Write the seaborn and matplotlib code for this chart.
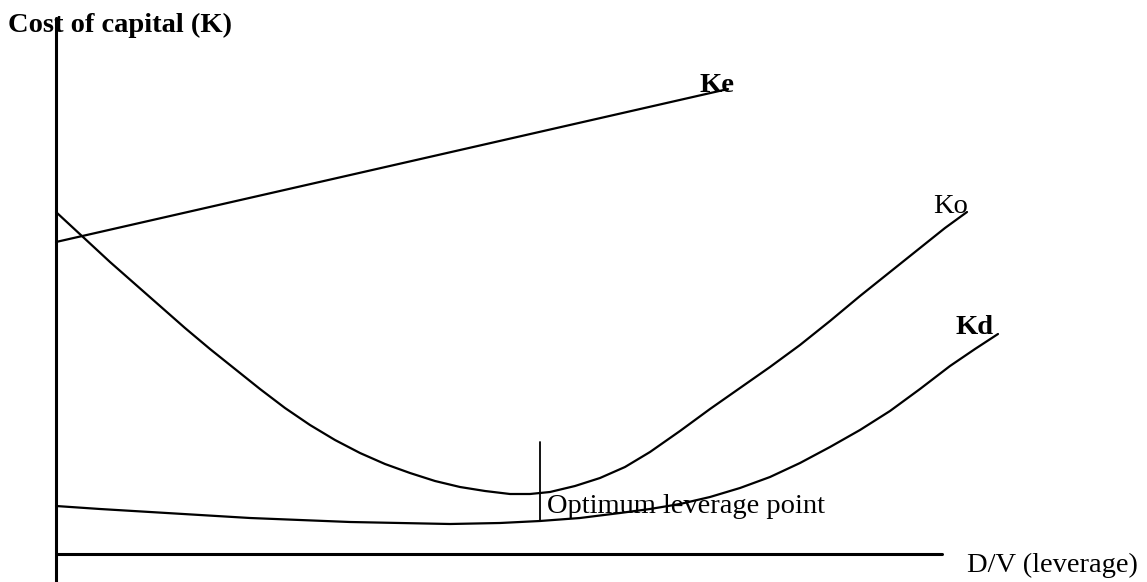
import matplotlib
matplotlib.use("Agg")
import matplotlib.pyplot as plt
import seaborn as sns
import pandas as pd

# curve values (origin at the axes corner)
ke_x = [0, 672]
ke_y = [312, 465]

ko_x = [0, 27, 54, 79, 104, 129, 154, 179, 204, 229, 254, 279, 304, 329, 354,
        379, 404, 429, 454, 474, 494, 519, 544, 569, 594, 624, 654, 684, 714,
        744, 774, 804, 834, 864, 889, 911]
ko_y = [342, 317, 292, 270, 248, 226, 205, 185, 165, 146, 129, 114, 101, 90, 81,
        73, 67, 63, 60, 60, 62, 68, 76, 87, 102, 123, 145, 166, 187,
        209, 233, 258, 282, 306, 326, 342]

kd_x = [0, 44, 94, 144, 194, 244, 294, 344, 394, 444, 484, 524, 564, 594, 624,
        654, 684, 714, 744, 774, 804, 834, 864, 894, 919, 942]
kd_y = [48, 45, 42, 39, 36, 34, 32, 31, 30, 31, 33, 36, 41, 45, 50,
        57, 66, 77, 91, 107, 124, 143, 165, 188, 205, 220]

optimum_x = 484
optimum_y = [33, 112]

x_axis_end = 886
y_axis_top = 536

sns.set_style("white")
plt.rcParams['font.family'] = ['Liberation Serif', 'DejaVu Serif']
plt.rcParams['text.color'] = 'black'

fig = plt.figure(figsize=(11.47, 5.82), dpi=100)
ax = fig.add_axes([0, 0, 1, 1])
ax.set_xlim(-56, 1091)
ax.set_ylim(-28, 554)
ax.axis('off')

curves = pd.concat([
    pd.DataFrame({'x': ke_x, 'y': ke_y, 'curve': 'Ke'}),
    pd.DataFrame({'x': ko_x, 'y': ko_y, 'curve': 'Ko'}),
    pd.DataFrame({'x': kd_x, 'y': kd_y, 'curve': 'Kd'}),
])
sns.lineplot(data=curves, x='x', y='y', units='curve', estimator=None,
             sort=False, color='black', linewidth=1.6, ax=ax)

# axes drawn as plain lines
ax.plot([0, 0], [-28, y_axis_top], color='black', linewidth=2.2)
ax.plot([0, x_axis_end], [0, 0], color='black', linewidth=2.2)
ax.plot([optimum_x, optimum_x], optimum_y, color='black', linewidth=1.3)

fs = 20.5
ax.text(-48, 522, 'Cost of capital (K)', fontsize=fs, fontweight='bold', va='baseline', color='black')
ax.text(644, 462, 'Ke', fontsize=fs, fontweight='bold', va='baseline', color='black')
ax.text(877, 341, 'Ko', fontsize=fs, va='baseline', color='black')
ax.text(899, 220, 'Kd', fontsize=fs, fontweight='bold', va='baseline', color='black')
ax.text(491, 41, 'Optimum leverage point', fontsize=fs, va='baseline', color='black')
ax.text(911, -18, 'D/V (leverage)', fontsize=fs, va='baseline', color='black')

fig.savefig('out.png', dpi=100)
